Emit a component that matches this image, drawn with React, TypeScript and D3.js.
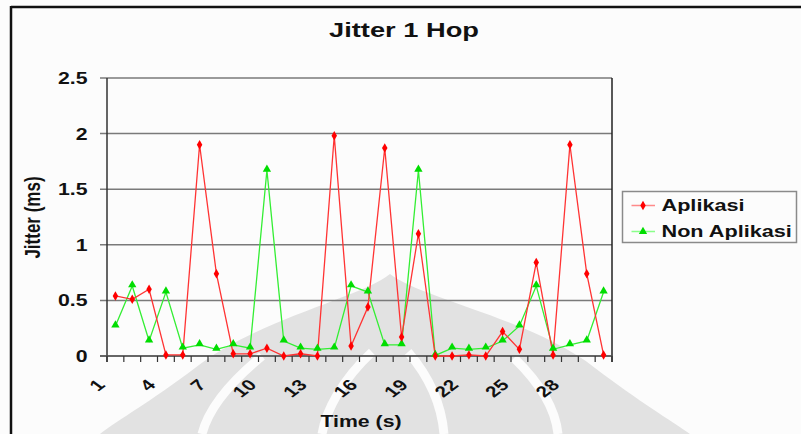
import React from "react";
import * as d3 from "d3";

const times: number[] = Array.from({ length: 30 }, (_, i) => i + 1);
const aplikasi: number[] = [0.54, 0.51, 0.6, 0.01, 0.01, 1.9, 0.74, 0.02, 0.02, 0.07, 0.0, 0.02, 0.0, 1.98, 0.09, 0.44, 1.87, 0.17, 1.1, 0.0, 0.0, 0.01, 0.0, 0.22, 0.06, 0.84, 0.01, 1.9, 0.74, 0.01];
const nonAplikasi: number[] = [0.27, 0.63, 0.135, 0.575, 0.07, 0.1, 0.06, 0.1, 0.07, 1.67, 0.135, 0.07, 0.06, 0.07, 0.63, 0.575, 0.1, 0.1, 1.67, 0.005, 0.07, 0.06, 0.07, 0.135, 0.27, 0.63, 0.06, 0.1, 0.135, 0.575];
const xTickLabels: string[] = ["1", "4", "7", "10", "13", "16", "19", "22", "25", "28"];
const yTicks: number[] = [0, 0.5, 1, 1.5, 2, 2.5];
const seriesNames: string[] = ["Aplikasi", "Non Aplikasi"];
const title = "Jitter 1 Hop";
const xTitle = "Time (s)";
const yTitle = "Jitter (ms)";

const FONT = "'Liberation Sans', Arial, sans-serif";
const SX = 1.33;

export default function App() {
  const x = d3.scaleBand<number>().domain(times).range([107, 612]).paddingInner(0).paddingOuter(0);
  const bw = x.bandwidth();
  const cx = (t: number) => (x(t) as number) + bw / 2;
  const y = d3.scaleLinear().domain([0, 2.5]).range([356, 78]);
  const line = d3
    .line<number>()
    .x((_, i) => cx(times[i]))
    .y((d) => y(d));
  const boundaries = d3.range(times.length + 1).map((i) => 107 + i * x.step());
  const diamond = d3.symbol().type(d3.symbolDiamond).size(26)() as string;
  const triangle = d3.symbol().type(d3.symbolTriangle).size(30)() as string;

  const fmt = (v: number) => (v === 0 ? "0" : d3.format("")(v));

  return (
    <svg
      width={801}
      height={434}
      style={{ position: "fixed", left: 0, top: 0, background: "#fcfcfc" }}
    >
      {/* watermark */}
      <g>
        <path
          d="M390,274 C360,298 255,320 195,368 C150,402 118,420 100,434 L690,434 C670,420 640,402 595,368 C535,320 420,298 390,274 Z"
          fill="#e2e2e2"
        />
        <g fill="none" stroke="#fcfcfc" strokeWidth={9}>
          <path d="M262,356 C228,384 208,410 202,434" />
          <path d="M372,352 C342,380 326,410 322,434" />
          <path d="M408,352 C432,380 442,410 444,434" />
          <path d="M514,358 C545,388 556,414 558,434" />
        </g>
      </g>

      {/* outer frame */}
      <line x1={11} y1={7} x2={801} y2={7} stroke="#111" strokeWidth={2.5} />
      <line x1={11} y1={6} x2={11} y2={434} stroke="#111" strokeWidth={2.5} />

      {/* title */}
      <text
        transform={`translate(404,37) scale(${SX},1)`}
        textAnchor="middle"
        fontFamily={FONT}
        fontWeight="bold"
        fontSize={20.5}
        fill="#111"
      >
        {title}
      </text>

      {/* gridlines */}
      {yTicks.map((t) => (
        <line key={"g" + t} x1={100} x2={612} y1={y(t)} y2={y(t)} stroke="#7a7a7a" strokeWidth={1.5} />
      ))}
      {/* y tick labels */}
      {yTicks.map((t) => (
        <text
          key={"yl" + t}
          transform={`translate(87.5,${y(t) + 6}) scale(${SX},1)`}
          textAnchor="end"
          fontFamily={FONT}
          fontWeight="bold"
          fontSize={16}
          fill="#111"
        >
          {fmt(t)}
        </text>
      ))}
      {/* axes */}
      <line x1={107} x2={107} y1={78} y2={362} stroke="#333" strokeWidth={1.5} />
      <line x1={612} x2={612} y1={78} y2={362} stroke="#222" strokeWidth={1.5} />
      <line x1={100} x2={612} y1={y(0)} y2={y(0)} stroke="#555" strokeWidth={1.5} />
      {boundaries.map((b, i) => (
        <line key={"t" + i} x1={b} x2={b} y1={y(0)} y2={y(0) + 6} stroke="#333" strokeWidth={1.2} />
      ))}
      {/* x tick labels */}
      {xTickLabels.map((lab) => {
        const bx = x(Number(lab)) as number;
        return (
          <text
            key={"xl" + lab}
            transform={`translate(${bx - 1},386) scale(${SX},1) rotate(-45)`}
            textAnchor="end"
            fontFamily={FONT}
            fontWeight="bold"
            fontSize={15.5}
            fill="#111"
          >
            {lab}
          </text>
        );
      })}
      {/* axis titles */}
      <text
        transform={`translate(361,426.5) scale(${SX},1)`}
        textAnchor="middle"
        fontFamily={FONT}
        fontWeight="bold"
        fontSize={16}
        fill="#111"
      >
        {xTitle}
      </text>
      <text
        transform={`translate(39.5,217.5) scale(${SX},1) rotate(-90)`}
        textAnchor="middle"
        fontFamily={FONT}
        fontWeight="bold"
        fontSize={17}
        fill="#111"
      >
        {yTitle}
      </text>

      {/* series */}
      <path d={line(nonAplikasi) as string} fill="none" stroke="#33ee33" strokeWidth={1.3} />
      <path d={line(aplikasi) as string} fill="none" stroke="#ff3333" strokeWidth={1.3} />
      {nonAplikasi.map((v, i) => (
        <path key={"n" + i} d={triangle} transform={`translate(${cx(times[i])},${y(v) - 1})`} fill="#00dd00" />
      ))}
      {aplikasi.map((v, i) => (
        <path key={"a" + i} d={diamond} transform={`translate(${cx(times[i])},${y(v)})`} fill="#ff0000" />
      ))}

      {/* legend */}
      <rect x={622.5} y={191.5} width={174} height={51} fill="#fcfcfc" stroke="#8a8a8a" strokeWidth={1.5} />
      {seriesNames.map((name, i) => {
        const ly = 205.5 + i * 26;
        const isA = i === 0;
        return (
          <g key={name}>
            <line x1={631.5} x2={655} y1={ly} y2={ly} stroke={isA ? "#ff8a8a" : "#8aff8a"} strokeWidth={1.5} />
            <path d={isA ? diamond : triangle} transform={`translate(643,${ly})`} fill={isA ? "#ff0000" : "#00dd00"} />
            <text
              transform={`translate(661.5,${ly + 5}) scale(${SX},1)`}
              fontFamily={FONT}
              fontWeight="bold"
              fontSize={16.3}
              fill="#111"
            >
              {name}
            </text>
          </g>
        );
      })}
    </svg>
  );
}
